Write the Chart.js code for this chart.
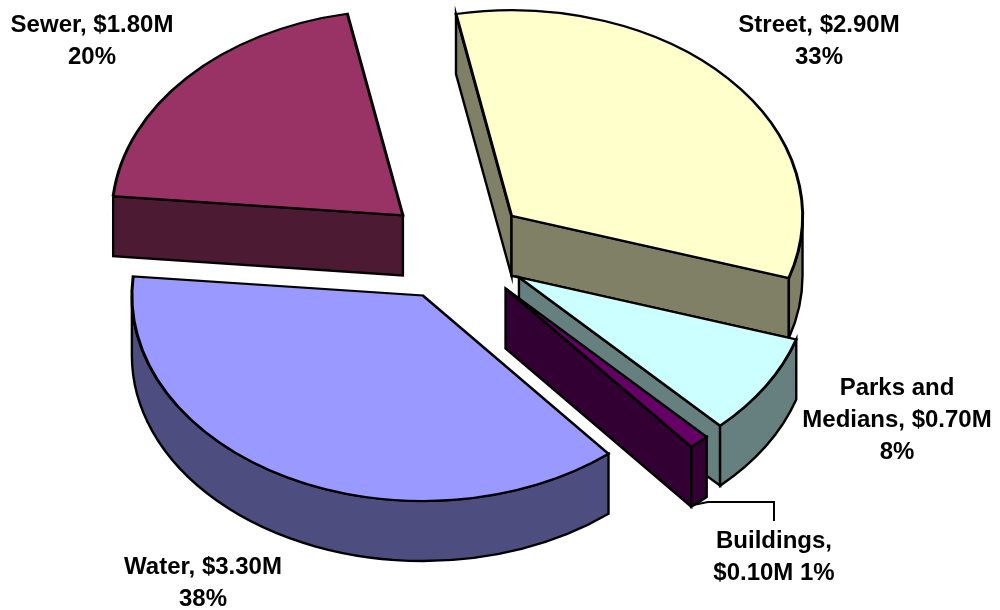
<!DOCTYPE html>
<html>
<head>
<meta charset="utf-8">
<style>
  html, body { margin: 0; padding: 0; background: #fff; }
  canvas { display: block; }
</style>
<script src="https://cdn.jsdelivr.net/npm/chart.js@4/dist/chart.umd.min.js"></script>
</head>
<body>
<canvas id="pie" width="1000" height="610"></canvas>
<script>
// data, clockwise from the Street slice
const categories = ['Street', 'Parks and Medians', 'Buildings', 'Water', 'Sewer'];
const values = [2.9, 0.7, 0.1, 3.3, 1.8];
const labelLines = [
    ['Street, $2.90M', '33%'],
    ['Parks and', 'Medians, $0.70M', '8%'],
    ['Buildings,', '$0.10M 1%'],
    ['Water, $3.30M', '38%'],
    ['Sewer, $1.80M', '20%']
];

const topColors = ['#FFFFCC', '#CCFFFF', '#660066', '#9999FF', '#993366'];
const sideColors = ['#808066', '#668080', '#330033', '#4D4D80', '#4D1A33'];

// label anchors: centre x and first baseline y
const labelAnchors = [[819, 32], [897, 395], [774, 548], [203, 574], [92, 32]];
const lineHeight = 32;

const radius = 291;
const explode = 73;     // px a slice moves out
const squash = 0.706;   // tilt of the pie
const depth = 60;       // wall height

/*---------3D walls and squash---------*/

function drawFace(ctx, cx, cy, ex, ey) {
    ctx.beginPath();
    ctx.moveTo(cx, cy);
    ctx.lineTo(ex, ey);
    ctx.lineTo(ex, ey + depth);
    ctx.lineTo(cx, cy + depth);
    ctx.closePath();
    ctx.fill();
    ctx.stroke();
}

const tilt3d = {
    id: 'tilt3d',
    beforeDatasetsDraw(chart) {
        const ctx = chart.ctx;
        const arcs = chart.getDatasetMeta(0).data;

        // walls first, only the ones that face the viewer
        ctx.save();
        ctx.lineWidth = 2.4;
        ctx.lineJoin = 'miter';
        ctx.strokeStyle = '#000';
        arcs.forEach(function (arc, i) {
            const mid = (arc.startAngle + arc.endAngle) / 2;
            const cx = arc.x + Math.cos(mid) * explode;
            const cy = arc.y + Math.sin(mid) * explode * squash;
            const ry = radius * squash;
            ctx.fillStyle = sideColors[i];
            if (Math.cos(arc.startAngle) < 0) {
                drawFace(ctx, cx, cy, cx + Math.cos(arc.startAngle) * radius, cy + Math.sin(arc.startAngle) * ry);
            }
            if (Math.cos(arc.endAngle) > 0) {
                drawFace(ctx, cx, cy, cx + Math.cos(arc.endAngle) * radius, cy + Math.sin(arc.endAngle) * ry);
            }
            const from = Math.max(arc.startAngle, 0);
            const to = Math.min(arc.endAngle, Math.PI);
            if (to > from) {
                ctx.beginPath();
                ctx.ellipse(cx, cy, radius, ry, 0, from, to);
                ctx.ellipse(cx, cy + depth, radius, ry, 0, to, from, true);
                ctx.closePath();
                ctx.fill();
                ctx.stroke();
            }
        });
        ctx.restore();

        // tops: the chart's own arc elements, flattened and moved out
        arcs.forEach(function (arc) {
            const mid = (arc.startAngle + arc.endAngle) / 2;
            ctx.save();
            ctx.translate(0, arc.y);
            ctx.scale(1, squash);
            ctx.translate(0, -arc.y);
            ctx.translate(Math.cos(mid) * explode, Math.sin(mid) * explode);
            arc.draw(ctx);
            ctx.restore();
        });
        return false;
    },
    afterDraw(chart) {
        const ctx = chart.ctx;
        ctx.save();
        // leader line of the Buildings label
        ctx.strokeStyle = '#000';
        ctx.lineWidth = 2;
        ctx.beginPath();
        ctx.moveTo(693, 505);
        ctx.lineTo(708, 502);
        ctx.lineTo(774, 502);
        ctx.lineTo(774, 521);
        ctx.stroke();

        ctx.fillStyle = '#000';
        ctx.font = 'bold 24px "Liberation Sans", Arial, sans-serif';
        ctx.textAlign = 'center';
        labelLines.forEach(function (lines, i) {
            lines.forEach(function (line, j) {
                ctx.fillText(line, labelAnchors[i][0], labelAnchors[i][1] + j * lineHeight);
            });
        });
        ctx.restore();
    }
};

const ctx = document.getElementById('pie').getContext('2d');
new Chart(ctx, {
    type: 'pie',
    data: {
        labels: categories,
        datasets: [{
            data: values,
            backgroundColor: topColors,
            borderColor: '#000',
            borderWidth: 3,
            borderJoinStyle: 'miter'
        }]
    },
    options: {
        responsive: false,
        animation: false,
        rotation: -11,
        radius: radius,
        layout: { padding: { right: 86, bottom: 110 } },
        plugins: {
            legend: { display: false },
            tooltip: { enabled: false }
        }
    },
    plugins: [tilt3d]
});
</script>
</body>
</html>
